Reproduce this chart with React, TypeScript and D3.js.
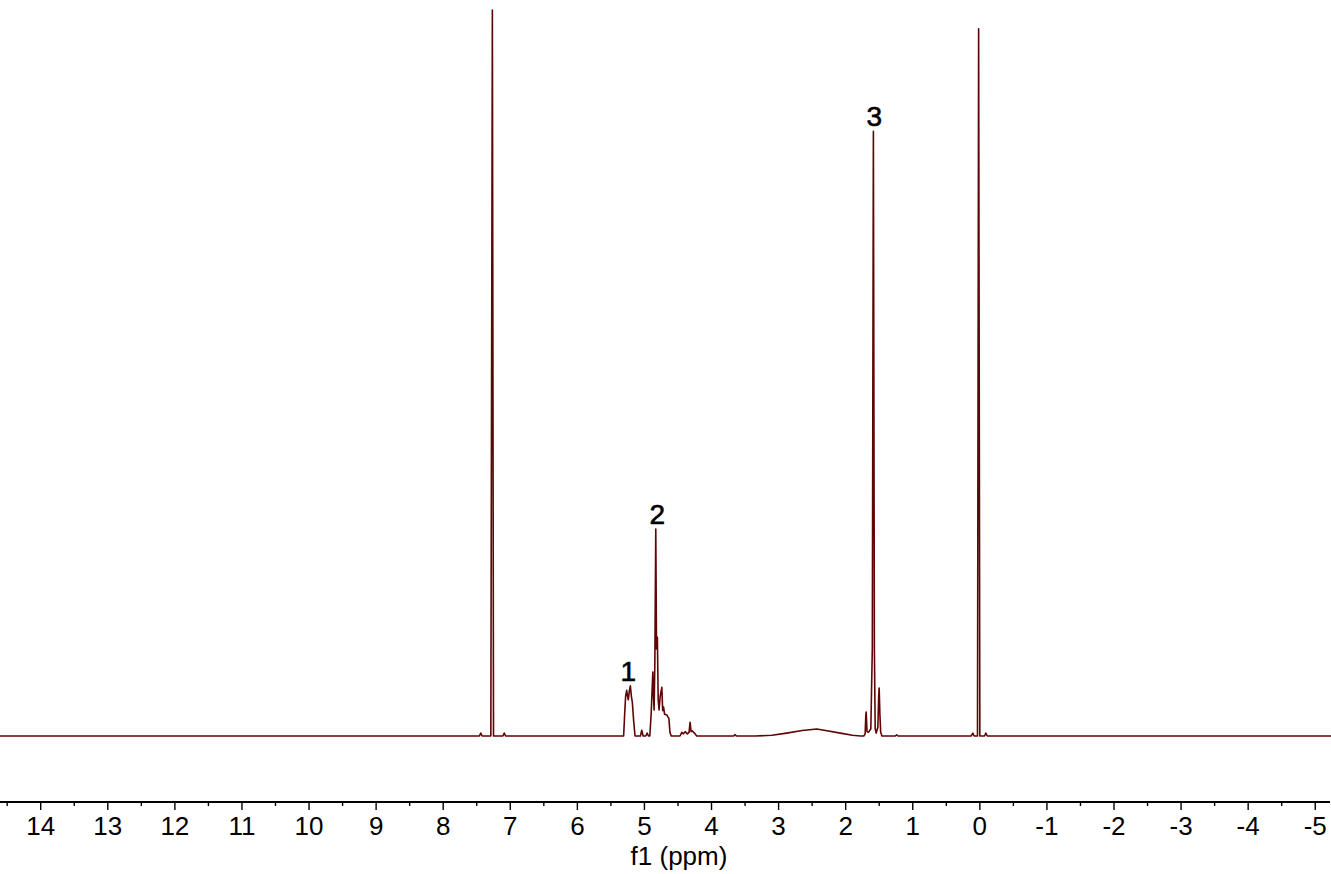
import React from "react";
import * as d3 from "d3";

// Spectrum trace: chemical shift (ppm) and relative intensity (7.27 ppm peak = 100)
const shiftPpm: number[] = [
  14.62, 7.46, 7.44, 7.42, 7.29, 7.267, 7.25, 7.11, 7.09, 7.07,
  5.31, 5.295, 5.28, 5.265, 5.25, 5.24, 5.225, 5.21, 5.195, 5.18, 5.16, 5.14,
  5.06, 5.04, 5.02, 4.98, 4.96, 4.94,
  4.92, 4.90, 4.885, 4.875, 4.865, 4.856, 4.845, 4.831, 4.82, 4.807, 4.795, 4.782, 4.765, 4.741, 4.728, 4.715, 4.70, 4.667, 4.635, 4.62, 4.60,
  4.47, 4.443, 4.42, 4.394, 4.36, 4.335, 4.319, 4.305, 4.285, 4.255, 4.22,
  3.67, 3.65, 3.63,
  3.35, 3.1, 2.88, 2.65, 2.43, 2.3, 2.08, 1.9, 1.78,
  1.73, 1.71, 1.70, 1.695, 1.688, 1.682, 1.66, 1.625, 1.603, 1.587, 1.572, 1.56, 1.545, 1.52, 1.508, 1.501, 1.49, 1.478, 1.46,
  1.26, 1.24, 1.22,
  0.13, 0.104, 0.085, 0.035, 0.018, 0.0, -0.07, -0.089, -0.11, -5.25,
];
const intensity: number[] = [
  0, 0, 0.4, 0, 0, 100, 0, 0, 0.4, 0,
  0, 3.0, 5.5, 6.3, 5.4, 5.0, 6.2, 6.9, 5.5, 4.6, 2.0, 0,
  0, 0.8, 0, 0, 0.4, 0,
  0, 3.0, 6.5, 8.8, 5.5, 3.6, 10.0, 28.5, 12.0, 13.6, 5.0, 3.6, 5.5, 6.7, 3.5, 4.0, 3.0, 2.9, 2.4, 0.5, 0,
  0, 0.5, 0.3, 0.6, 0.3, 0.5, 1.9, 0.6, 0.7, 0.4, 0,
  0, 0.2, 0,
  0, 0.1, 0.4, 0.75, 0.97, 0.75, 0.4, 0.1, 0,
  0, 0.3, 2.8, 3.3, 2.0, 0.6, 0.5, 1.0, 12, 83.3, 12, 1.0, 0.4, 1.2, 5.5, 6.6, 3.0, 0.5, 0,
  0, 0.15, 0,
  0, 0.4, 0, 0, 97.4, 0, 0, 0.4, 0, 0,
];

// Peak annotations
const peakLabels: string[] = ["1", "2", "3"];
const peakLabelPpm: number[] = [5.24, 4.81, 1.575];
const peakLabelIntensity: number[] = [6.9, 28.5, 83.3];

// Axis ticks
const majorTicks: number[] = [14, 13, 12, 11, 10, 9, 8, 7, 6, 5, 4, 3, 2, 1, 0, -1, -2, -3, -4, -5];
const minorTicks: number[] = [14.5, 13.5, 12.5, 11.5, 10.5, 9.5, 8.5, 7.5, 6.5, 5.5, 4.5, 3.5, 2.5, 1.5, 0.5, -0.5, -1.5, -2.5, -3.5, -4.5];
const axisTitle = "f1 (ppm)";

const W = 1331;
const H = 874;
const FONT = "Arial, 'Liberation Sans', Helvetica, sans-serif";
const LINE_COLOR = "#5e0505";

export default function App() {
  const x = d3.scaleLinear().domain([14.607, -5.22]).range([0, 1330]);
  const y = d3.scaleLinear().domain([0, 100]).range([736, 10]);
  const axisY = 802;

  const pts = shiftPpm.map((p, i) => [p, intensity[i]] as [number, number]);
  const line = d3
    .line<[number, number]>()
    .x((d) => x(d[0]))
    .y((d) => y(d[1]));

  return (
    <svg
      width={W}
      height={H}
      style={{ position: "fixed", left: 0, top: 0, background: "#fff" }}
      fontFamily={FONT}
    >
      <rect x={0} y={0} width={W} height={H} fill="#fff" />
      <path d={line(pts) || ""} fill="none" stroke={LINE_COLOR} strokeWidth={1.6} strokeLinejoin="round" />
      {peakLabels.map((t, i) => (
        <text
          key={t}
          x={x(peakLabelPpm[i])}
          y={y(peakLabelIntensity[i]) - 5}
          textAnchor="middle"
          fontSize={28}
          fill="#000"
          stroke="#000"
          strokeWidth={0.6}
        >
          {t}
        </text>
      ))}
      <line x1={0} x2={1330} y1={axisY} y2={axisY} stroke="#000" strokeWidth={1.8} />
      {minorTicks.map((t) => (
        <line key={"m" + t} x1={x(t)} x2={x(t)} y1={axisY} y2={axisY + 4} stroke="#000" strokeWidth={1.4} />
      ))}
      {majorTicks.map((t) => (
        <g key={"M" + t}>
          <line x1={x(t)} x2={x(t)} y1={axisY} y2={axisY + 8} stroke="#000" strokeWidth={1.4} />
          <text x={x(t)} y={835} textAnchor="middle" fontSize={26} fill="#000">
            {String(t)}
          </text>
        </g>
      ))}
      <text x={679} y={865} textAnchor="middle" fontSize={26} fill="#000">
        {axisTitle}
      </text>
    </svg>
  );
}
